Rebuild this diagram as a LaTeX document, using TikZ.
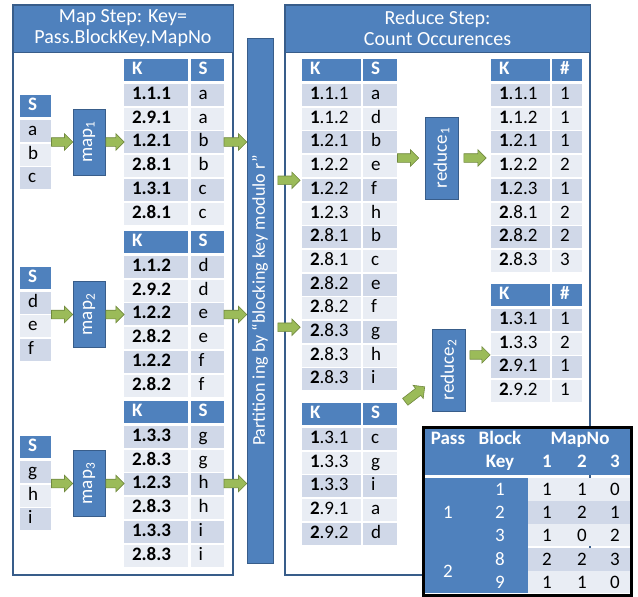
\documentclass[tikz,border=0pt]{standalone}
\usepackage{fontspec}
\setmainfont{Carlito}
\usepackage{graphicx}
\usetikzlibrary{calc,shapes.arrows}
\definecolor{hdblue}{HTML}{4F81BD}
\definecolor{edgeblue}{HTML}{385D8A}
\definecolor{rowdark}{HTML}{D0D8E8}
\definecolor{rowlight}{HTML}{E9EDF4}
\definecolor{arrowgreen}{HTML}{9BBB59}
\definecolor{arrowedge}{HTML}{71893F}
\begin{document}
\fontsize{19}{21}\selectfont
\begin{tikzpicture}[x=1pt,y=-1pt,
    cell/.style={inner xsep=8pt, inner ysep=0pt, minimum height=22pt, text height=13pt, text depth=4pt, align=left},
    hd/.style={cell, fill=hdblue, text=white, font=\bfseries},
    odd/.style={cell, fill=rowdark},
    even/.style={cell, fill=rowlight},
    box/.style={draw=edgeblue, fill=hdblue, text=white, line width=1pt, inner sep=0pt},
    title/.style={box, align=center, font=\fontsize{20}{21}\selectfont},
    panel/.style={draw=edgeblue, line width=1.5pt, inner sep=0pt},
    fatarrow/.style={to path={let \p1=($(\tikztotarget)-(\tikztostart)$), \n1={veclen(\x1,\y1)}, \n2={atan2(\y1,\x1)} in
        (\tikztostart) node[single arrow, draw=arrowedge, fill=arrowgreen, line width=0.6pt, inner xsep=0pt, inner ysep=4pt,
        single arrow head extend=4pt, single arrow head indent=0pt,
        minimum height=\n1, rotate=\n2, anchor=tail] {}}}
  ]
  \useasboundingbox (0,0) rectangle (638,597);

  % panels
  \node[panel, minimum width=220pt, minimum height=570pt] (mapstep) at (123,290) {};
  \node[title, minimum width=220pt, minimum height=47pt] (maphd) at (123,28.5) {Map Step: Key=\\Pass.BlockKey.MapNo};
  \node[panel, minimum width=305pt, minimum height=570pt] (redstep) at (437.5,290) {};
  \node[title, minimum width=305pt, minimum height=47pt] (redhd) at (437.5,28.5) {Reduce Step:\\Count Occurences};
  \node[box, minimum width=26pt, minimum height=525pt, font=\fontsize{18}{21}\selectfont] (part) at (260,300.5) {\rotatebox{90}{Partition ing by “blocking key modulo r”}};

  % input splits and mappers
  \foreach \t/\y/\a/\b/\c in {1/106/a/b/c, 2/277.5/d/e/f, 3/447/g/h/i} {
    \node[hd, text width=15pt] (s\t-0) at (35.5,\y) {S};
    \node[odd, text width=15pt] (s\t-1) at (35.5,\y+25) {\a};
    \node[even, text width=15pt] (s\t-2) at (35.5,\y+48.7) {\b};
    \node[odd, text width=15pt] (s\t-3) at (35.5,\y+72.4) {\c};
  }
  \foreach \t/\y in {1/142, 2/314.5, 3/483.5}
    \node[box, minimum width=32pt, minimum height=66pt] (m\t) at (89,\y) {\rotatebox{90}{map\textsubscript{\t}}};

  % map output
  \foreach \t/\y/\rows in {1/70/{1.1.1/a,2.9.1/a,1.2.1/b,2.8.1/b,1.3.1/c,2.8.1/c},
                           2/242/{1.1.2/d,2.9.2/d,1.2.2/e,2.8.2/e,1.2.2/f,2.8.2/f},
                           3/412/{1.3.3/g,2.8.3/g,1.2.3/h,2.8.3/h,1.3.3/i,2.8.3/i}} {
    \node[hd, text width=48pt] (k\t-K0) at (156,\y) {K};
    \node[hd, text width=17pt] (k\t-S0) at (207,\y) {S};
    \foreach \k/\s [count=\i] in \rows {
      \ifodd\i\def\rs{odd}\else\def\rs{even}\fi
      \node[\rs, text width=48pt, font=\bfseries] (k\t-K\i) at (156,\y+1.3+23.7*\i) {\k};
      \node[\rs, text width=17pt] (k\t-S\i) at (207,\y+1.3+23.7*\i) {\s};
    }
  }

  % shuffled pairs
  \node[hd, text width=43pt] (b-K0) at (331.5,70) {K};
  \node[hd, text width=18pt] (b-S0) at (380,70) {S};
  \foreach \p/\q/\s [count=\i] in {1/1.1/a,1/1.2/d,1/2.1/b,1/2.2/e,1/2.2/f,1/2.3/h,2/8.1/b,2/8.1/c,2/8.2/e,2/8.2/f,2/8.3/g,2/8.3/h,2/8.3/i} {
    \ifodd\i\def\rs{odd}\else\def\rs{even}\fi
    \node[\rs, text width=43pt] (b-K\i) at (331.5,71.3+23.7*\i) {\textbf{\p}.\q};
    \node[\rs, text width=18pt] (b-S\i) at (380,71.3+23.7*\i) {\s};
  }
  \node[hd, text width=43pt] (e-K0) at (331.5,414) {K};
  \node[hd, text width=18pt] (e-S0) at (380,414) {S};
  \foreach \p/\q/\s [count=\i] in {1/3.1/c,1/3.3/g,1/3.3/i,2/9.1/a,2/9.2/d} {
    \ifodd\i\def\rs{odd}\else\def\rs{even}\fi
    \node[\rs, text width=43pt] (e-K\i) at (331.5,415.3+23.7*\i) {\textbf{\p}.\q};
    \node[\rs, text width=18pt] (e-S\i) at (380,415.3+23.7*\i) {\s};
  }

  % reducers and counts
  \node[box, minimum width=33pt, minimum height=82pt] (r1) at (441.5,158) {\rotatebox{90}{reduce\textsubscript{1}}};
  \node[box, minimum width=33pt, minimum height=82pt] (r2) at (448.5,370) {\rotatebox{90}{reduce\textsubscript{2}}};
  \foreach \t/\y/\rows in {1/70/{1/1.1/1,1/1.2/1,1/2.1/1,1/2.2/2,1/2.3/1,2/8.1/2,2/8.2/2,2/8.3/3},
                           2/295/{1/3.1/1,1/3.3/2,2/9.1/1,2/9.2/1}} {
    \node[hd, text width=43pt] (c\t-K0) at (520.5,\y) {K};
    \node[hd, text width=14pt] (c\t-N0) at (567,\y) {\#};
    \foreach \p/\q/\n [count=\i] in \rows {
      \ifodd\i\def\rs{odd}\else\def\rs{even}\fi
      \node[\rs, text width=43pt] (c\t-K\i) at (520.5,\y+1.3+23.7*\i) {\textbf{\p}.\q};
      \node[\rs, text width=14pt] (c\t-N\i) at (567,\y+1.3+23.7*\i) {\n};
    }
  }

  % arrows
  \foreach \t in {1,2,3} {
    \path (s\t-1.east |- m\t.west) to[fatarrow] (m\t.west);
    \path (m\t.east) to[fatarrow] (k\t-K3.west |- m\t.east);
    \path (k\t-S3.east |- m\t.east) to[fatarrow] (part.west |- m\t.east);
  }
  \coordinate (p1) at ($(b-K4.west)!.6!(b-K5.west)$);
  \coordinate (p2) at ($(b-K10.west)!.8!(b-K11.west)$);
  \path ([xshift=4pt]part.east |- p1) to[fatarrow] ([xshift=-2pt]p1);
  \path ([xshift=4pt]part.east |- p2) to[fatarrow] ([xshift=-2pt]p2);
  \path (b-S4.east |- r1.west) to[fatarrow] ([xshift=-6pt]r1.west);
  \path ([xshift=5pt]r1.east) to[fatarrow] ([xshift=-5pt]c1-K1.west |- r1.east);
  \coordinate (dtail) at (405,402);
  \path (dtail) to[fatarrow] ([shift={(-7,17)}]r2.west);
  \path ([xshift=4pt]r2.east |- c2-K2.south) to[fatarrow] ([xshift=-1pt]c2-K2.south west);

  % key legend
  \fill[hdblue] (425,429) rectangle (630,475);
  \fill[hdblue] (425,478) rectangle (528,593);
  \fill[rowlight] (528,478) rectangle (630,501);
  \fill[rowdark] (528,501) rectangle (630,524);
  \fill[rowlight] (528,524) rectangle (630,546);
  \fill[rowdark] (528,548) rectangle (630,571);
  \fill[rowlight] (528,571) rectangle (630,593);
  \draw[black, line width=3pt] (423.5,427.5) rectangle (631.5,595.5);
  \begin{scope}[every node/.style={text=white, font=\bfseries, inner sep=0pt, text height=13pt, text depth=4pt}]
    \node (lg-pass) at (448,440) {Pass};
    \node (lg-block) at (500,440) {Block};
    \node (lg-key) at (500,463) {Key};
    \node (lg-mapno) at (580,440) {MapNo};
    \node (lg-m1) at (547,463) {1};
    \node (lg-m2) at (582,463) {2};
    \node (lg-m3) at (615,463) {3};
  \end{scope}
  \node[text=white, inner sep=0pt] (lg-p1) at (448,512) {1};
  \node[text=white, inner sep=0pt] (lg-p2) at (448,571) {2};
  \foreach \b/\u/\v/\w/\y in {1/1/1/0/489.5, 2/1/2/1/512.5, 3/1/0/2/535, 8/2/2/3/559.5, 9/1/1/0/582} {
    \node[text=white, inner sep=0pt] (lg-b\b) at (500,\y) {\b};
    \node[inner sep=0pt] (lg-b\b-1) at (547,\y) {\u};
    \node[inner sep=0pt] (lg-b\b-2) at (582,\y) {\v};
    \node[inner sep=0pt] (lg-b\b-3) at (615,\y) {\w};
  }
\end{tikzpicture}
\end{document}
